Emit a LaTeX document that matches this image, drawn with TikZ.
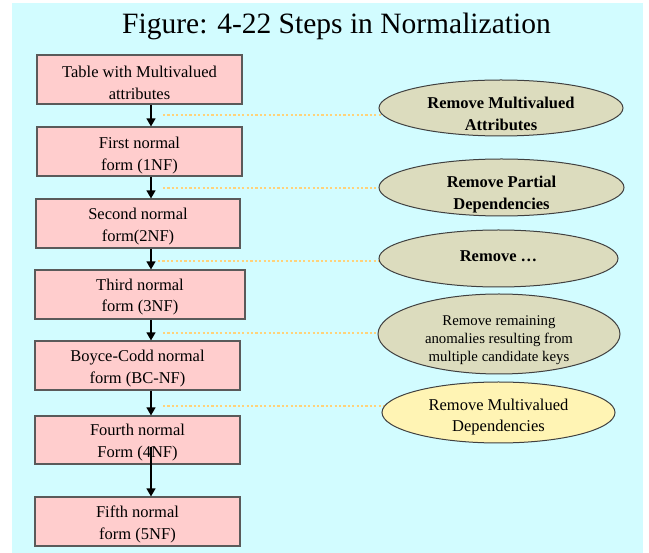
\documentclass[tikz,border=0pt]{standalone}
\usepackage{fontspec}
\setmainfont{Liberation Serif}
\usetikzlibrary{shapes.geometric,arrows.meta}
\pgfdeclarelayer{back}
\pgfdeclarelayer{lines}
\pgfsetlayers{back,lines,main}
\definecolor{bgc}{HTML}{D2FCFF}
\definecolor{boxfill}{HTML}{FFCDCD}
\definecolor{boxborder}{HTML}{5A5A5A}
\definecolor{ellfill}{HTML}{DCDCBE}
\definecolor{ellyel}{HTML}{FFF4B4}
\definecolor{dotc}{HTML}{FFD27A}
\begin{document}
\begin{tikzpicture}[x=1pt,y=-1pt,
  stepbox/.style={draw=boxborder,line width=1.2pt,fill=boxfill,minimum width=205pt,
    minimum height=49pt,inner sep=0pt},
  boxtext/.style={inner sep=0pt,align=center,font=\fontsize{16.5}{21.5}\selectfont},
  ellbox/.style={ellipse,draw=black!75,line width=1pt,fill=ellfill,inner sep=0pt},
  elltext/.style={inner sep=0pt,align=center,font=\fontsize{16.5}{22}\selectfont\bfseries},
  arr/.style={-{Triangle[length=8pt,width=9pt]},line width=1.3pt,black},
  dots/.style={draw=dotc,line width=2.2pt,dash pattern=on 2.2pt off 2.2pt}]
\useasboundingbox (0,0) rectangle (649,553);
\begin{pgfonlayer}{back}
\fill[white] (0,0) rectangle (649,553);
\fill[bgc] (12,3) rectangle (643,553);
\end{pgfonlayer}
\node[anchor=base,font=\fontsize{29.5}{32}\selectfont] (title) at (336.5,34) {Figure: 4-22 Steps in Normalization};
% boxes
\node[stepbox] (b1) at (139.5,79.5) {};
\node[stepbox] (b2) at (139.5,151.5) {};
\node[stepbox,minimum width=204pt] (b3) at (138,223.5) {};
\node[stepbox,minimum width=210pt] (b4) at (140,294.5) {};
\node[stepbox] (b5) at (137.5,365.5) {};
\node[stepbox,minimum height=48pt] (b6) at (137.5,440) {};
\node[stepbox] (b7) at (137.5,521.5) {};
\node[boxtext] (t1) at ([yshift=-3.5pt]b1.center) {Table with Multivalued\\attributes};
\node[boxtext] (t2) at ([yshift=-4pt]b2.center) {First normal\\form (1NF)};
\node[boxtext] (t3) at ([yshift=-3pt]b3.center) {Second normal\\form(2NF)};
\node[boxtext] (t4) at ([yshift=-2.5pt]b4.center) {Third normal\\form (3NF)};
\node[boxtext] (t5) at ([yshift=-3pt]b5.center) {Boyce-Codd normal\\form (BC-NF)};
\node[boxtext] (t6) at ([yshift=-2.5pt]b6.center) {Fourth normal\\Form (4NF)};
\node[boxtext] (t7) at ([yshift=-3pt]b7.center) {Fifth normal\\form (5NF)};
% ellipses
\node[ellbox,minimum width=244pt,minimum height=56pt] (e1) at (501,108) {};
\node[ellbox,minimum width=245pt,minimum height=57pt] (e2) at (501.5,187.5) {};
\node[ellbox,minimum width=239pt,minimum height=57pt] (e3) at (498.5,258.5) {};
\node[ellbox,minimum width=242pt,minimum height=80pt] (e4) at (499,334) {};
\node[ellbox,fill=ellyel,minimum width=233pt,minimum height=61pt] (e5) at (498.5,412.5) {};
\node[elltext] (f1) at ([yshift=-6pt]e1.center) {Remove Multivalued\\Attributes};
\node[elltext] (f2) at ([yshift=-7pt]e2.center) {Remove Partial\\Dependencies};
\node[elltext] (f3) at ([yshift=2pt]e3.center) {Remove \dots};
\node[elltext,font=\fontsize{14.8}{18}\selectfont] (f4) at ([yshift=-6pt]e4.center) {Remove remaining\\anomalies resulting from\\multiple candidate keys};
\node[elltext,font=\fontsize{16.5}{21}\selectfont] (f5) at ([yshift=-5pt]e5.center) {Remove Multivalued\\Dependencies};
% arrows
\coordinate (ax) at (151,0);
\coordinate (s6) at (151,447);
\draw[arr] (b1.south -| ax) -- (b2.north -| ax);
\draw[arr] (b2.south -| ax) -- (b3.north -| ax);
\draw[arr] (b3.south -| ax) -- (b4.north -| ax);
\draw[arr] (b4.south -| ax) -- (b5.north -| ax);
\draw[arr] (b5.south -| ax) -- (b6.north -| ax);
\draw[arr] (s6) -- (b7.north -| ax);
% dotted leaders
\coordinate (d1) at (163,115);
\coordinate (d2) at (163,188);
\coordinate (d3) at (158,261);
\coordinate (d4) at (163,333);
\coordinate (d5) at (163,406);
\begin{pgfonlayer}{lines}
\draw[dots] (d1) -- (d1 -| e1.center);
\draw[dots] (d2) -- (d2 -| e2.center);
\draw[dots] (d3) -- (d3 -| e3.center);
\draw[dots] (d4) -- (d4 -| e4.center);
\draw[dots] (d5) -- (d5 -| e5.center);
\end{pgfonlayer}
\end{tikzpicture}
\end{document}
